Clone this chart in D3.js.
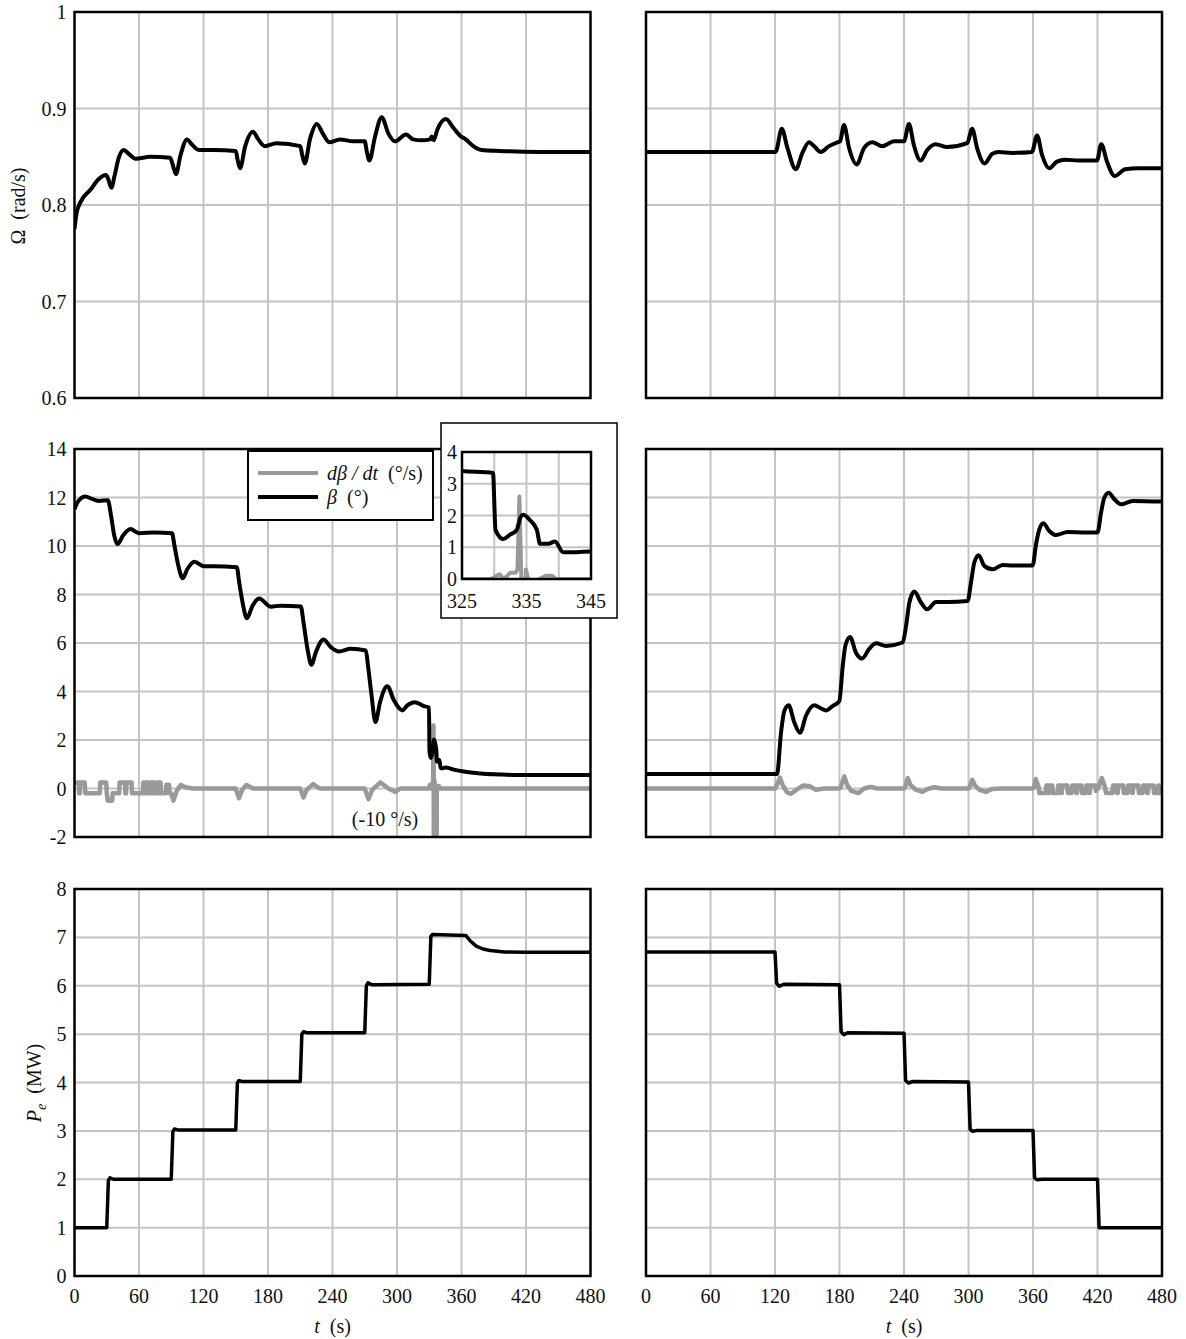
<!DOCTYPE html>
<html>
<head>
<meta charset="utf-8">
<script src="https://cdn.jsdelivr.net/npm/d3@7"></script>
<style>
body { margin: 0; background: white; }
text { font-family: "Liberation Serif", "Times New Roman", serif; fill: #111; }
</style>
</head>
<body>
<div id="chart"></div>
<script>
// ---- data ----
const tTicks = [0, 60, 120, 180, 240, 300, 360, 420, 480];
const omegaTicks = [0.6, 0.7, 0.8, 0.9, 1];
const omegaTickLabels = ["0.6", "0.7", "0.8", "0.9", "1"];
const betaTicks = [-2, 0, 2, 4, 6, 8, 10, 12, 14];
const peTicks = [0, 1, 2, 3, 4, 5, 6, 7, 8];
const insetTTicks = [325, 330, 335, 340, 345];
const insetTLabels = [325, 335, 345];
const insetBetaTicks = [0, 1, 2, 3, 4];

// rotor speed, increasing power (left) and decreasing power (right)
const omegaUp = [[0,0.775],[2,0.792],[5.6,0.803],[15,0.816],[22.6,0.827],[29.4,0.831],[31.3,0.827],[34.4,0.818],[37.2,0.83],[41.2,0.849],[45.8,0.857],[50.5,0.853],[56.7,0.848],[70.6,0.85],[89,0.849],[91.3,0.842],[94.4,0.832],[98.5,0.851],[104.6,0.868],[109,0.863],[115.5,0.857],[129,0.857],[150,0.856],[151.7,0.847],[154,0.838],[158.8,0.861],[166,0.876],[171,0.868],[177,0.861],[188,0.864],[210,0.861],[211.8,0.852],[214.2,0.843],[219.2,0.869],[225.4,0.884],[231,0.874],[237,0.865],[247,0.868],[259.4,0.866],[270,0.866],[271.8,0.856],[274.3,0.846],[279.6,0.871],[285.8,0.891],[292,0.874],[298,0.866],[308.4,0.873],[315,0.868],[323,0.867],[331,0.868],[332.2,0.871],[334,0.867],[337.5,0.878],[345.5,0.889],[352.4,0.88],[358.5,0.872],[364,0.868],[371,0.861],[378.6,0.857],[395.6,0.856],[432.8,0.855],[480,0.855]];
const omegaDown = [[0,0.855],[120.5,0.855],[126.3,0.879],[131.6,0.859],[139.3,0.837],[145.5,0.854],[151.7,0.865],[156.3,0.861],[162.5,0.855],[170.3,0.861],[178,0.865],[180.5,0.866],[184.2,0.883],[188.9,0.859],[196,0.842],[202.8,0.859],[210.5,0.865],[219.8,0.861],[230.7,0.866],[240,0.866],[244.6,0.884],[249.2,0.862],[255.4,0.846],[261.6,0.857],[269.3,0.863],[280,0.86],[298.8,0.864],[303.4,0.879],[308,0.859],[315,0.843],[322,0.853],[328,0.855],[340.6,0.854],[359,0.855],[363.8,0.872],[368.4,0.852],[375.2,0.838],[382.3,0.845],[390,0.847],[402.5,0.846],[419.5,0.846],[423.5,0.863],[428.8,0.845],[436,0.83],[445.8,0.837],[458.2,0.838],[480,0.838]];

// pitch angle (deg)
const betaUp = [[0,11.52],[3.7,11.86],[10,12.04],[17,11.93],[23,11.86],[31,11.89],[34,11.25],[37,10.42],[40,10.08],[45,10.42],[52,10.7],[60,10.53],[74,10.56],[90.7,10.53],[93,10.01],[96.6,9.19],[100.6,8.67],[105,9.05],[111.5,9.35],[120.7,9.16],[130,9.16],[151,9.12],[153.2,8.5],[156.3,7.68],[160.4,7.02],[165.6,7.54],[171.8,7.84],[182.7,7.5],[192,7.54],[210.5,7.51],[213,6.86],[216.7,5.76],[220.4,5.1],[224.5,5.62],[231.6,6.14],[238.4,5.83],[246,5.65],[257,5.76],[271,5.69],[273,5.07],[276,3.97],[280,2.74],[284.2,3.56],[291,4.22],[297.2,3.63],[305,3.22],[309.6,3.43],[316.4,3.56],[323.5,3.43],[325,3.4],[329.8,3.34],[330.2,1.54],[331.4,1.26],[332.4,1.39],[333.5,1.55],[334.1,1.96],[334.5,2.02],[335.5,1.86],[336.6,1.55],[337.1,1.11],[338.4,1.11],[339.4,1.18],[340.7,0.84],[342.8,0.84],[344.9,0.87],[352.8,0.78],[362,0.7],[377.6,0.62],[395,0.58],[408,0.56],[480,0.56]];
const betaDown = [[0,0.6],[121.9,0.6],[125.6,2.3],[128.7,3.2],[132.7,3.43],[138,2.72],[143.3,2.3],[148.8,3.0],[156.6,3.43],[163,3.3],[167.4,3.22],[173.6,3.4],[179.8,3.6],[183,5.05],[185.4,5.88],[189.8,6.25],[195.3,5.6],[201,5.36],[207.8,5.77],[214,5.99],[223.3,5.88],[238.8,6.02],[241.9,6.7],[245,7.67],[249.6,8.12],[255.8,7.67],[261.4,7.39],[269.8,7.69],[280.6,7.69],[299.2,7.73],[302.3,8.49],[305.4,9.32],[309.5,9.62],[314.7,9.18],[322.5,9.04],[331.8,9.22],[341,9.2],[359.7,9.2],[362.8,10.07],[365.9,10.69],[369.6,10.94],[375.2,10.62],[381.4,10.45],[392.2,10.58],[409.3,10.56],[420,10.56],[423.3,11.38],[426.4,12.0],[430.4,12.2],[435.7,11.93],[441.9,11.72],[452.7,11.86],[480,11.83]];

// pitch rate (deg/s)
const dBetaUp = [[0,0.25],[4,0.25],[4.3,-0.2],[5,-0.2],[5.3,0.25],[9.5,0.25],[10,-0.2],[23.5,-0.2],[24,0.25],[29.5,0.25],[30,-0.2],[31,-0.5],[35,-0.5],[35.5,-0.2],[41.5,-0.2],[42,0.25],[47,0.25],[47.3,-0.2],[48,-0.2],[48.3,0.25],[53,0.25],[53.5,-0.2],[63.5,-0.2],[64,0.25],[66,0.25],[66.3,-0.2],[66.8,-0.2],[67.1,0.25],[68,0.25],[68.5,-0.2],[70,-0.2],[70.5,0.25],[72,0.25],[72.3,-0.2],[72.8,-0.2],[73.1,0.25],[74,0.25],[74.5,-0.2],[76,-0.2],[76.5,0.25],[78,0.25],[78.3,-0.2],[78.8,-0.2],[79.1,0.25],[80,0.25],[80.5,-0.2],[85,-0.2],[85.5,0.15],[88,0.15],[88.5,-0.2],[90,-0.2],[92,-0.5],[95,-0.1],[99,0.15],[103,0.05],[110,0],[150,0],[153,-0.4],[156,-0.05],[160,0.15],[166,0],[210,0],[213,-0.37],[216,-0.05],[222,0.18],[228,0],[270,0],[273.5,-0.44],[277,-0.05],[284.6,0.25],[292,0],[298.6,-0.14],[303,0],[329.5,0],[330.8,0.15],[331.5,0],[332.5,0.2],[333.3,0.2],[333.6,0.3],[333.9,2.6],[334.2,0],[334.5,-10],[334.9,0.3],[335.5,-0.2],[336.4,-10],[337,0],[338,0.1],[339,0.1],[339.5,0],[480,0]];
const dBetaDown = [[0,0],[120,0],[121,0.05],[124.5,0.45],[127,0.15],[131,-0.15],[135,-0.22],[140,-0.05],[146,0.12],[152,0.1],[158,-0.05],[166,0],[180,0],[181,0.05],[184.5,0.5],[187,0.15],[191,-0.1],[197.5,-0.19],[203,0],[209,0.07],[215,0],[240,0],[241,0.05],[243.5,0.43],[246,0.15],[251,-0.05],[257,-0.14],[262,-0.02],[268,0.05],[275,0],[300,0],[301,0.05],[303.5,0.36],[306,0.12],[310,-0.05],[316,-0.14],[322,-0.02],[330,0],[360,0],[361,0.05],[362.5,0.39],[365,0.1],[366,-0.19],[372,-0.19],[372.5,0.12],[374,0.12],[374.3,-0.19],[374.8,-0.19],[375.1,0.12],[378,0.12],[378.5,-0.19],[383,-0.19],[383.5,0.12],[386,0.12],[386.3,-0.19],[386.8,-0.19],[387.1,0.12],[392,0.12],[392.5,-0.19],[396,-0.19],[396.5,0.12],[400,0.12],[400.3,-0.19],[400.8,-0.19],[401.1,0.12],[405,0.12],[405.5,-0.19],[409,-0.19],[409.5,0.12],[412,0.12],[412.3,-0.19],[412.8,-0.19],[413.1,0.12],[418,0.12],[418.5,-0.1],[421,0.05],[424,0.43],[426.5,0.12],[428,-0.19],[434,-0.19],[434.5,0.12],[438,0.12],[438.3,-0.19],[438.8,-0.19],[439.1,0.12],[444,0.12],[444.5,-0.19],[448,-0.19],[448.5,0.12],[452,0.12],[452.3,-0.19],[452.8,-0.19],[453.1,0.12],[458,0.12],[458.5,-0.19],[462,-0.19],[462.5,0.12],[466,0.12],[466.3,-0.19],[466.8,-0.19],[467.1,0.12],[472,0.12],[472.5,-0.19],[476,-0.19],[476.3,0.12],[477,0.12],[477.3,-0.19],[480,-0.19]];

// electrical power (MW)
const peUp = [[0,1],[30,1],[31.5,1.97],[33,2.03],[36,2.0],[90,2.0],[91.5,2.98],[93,3.04],[96,3.02],[150,3.02],[151.5,3.99],[153,4.04],[156,4.02],[210,4.02],[211.5,5.0],[213,5.05],[216,5.03],[270,5.03],[271.5,6.0],[273,6.06],[277,6.02],[330,6.03],[331.5,7.02],[333,7.06],[364,7.04],[368,6.93],[373.7,6.82],[380,6.76],[386.6,6.73],[400,6.7],[418.8,6.69],[480,6.69]];
const peDown = [[0,6.7],[120,6.7],[121.5,6.05],[124,5.99],[128,6.03],[180,6.02],[181.5,5.05],[184,4.99],[188,5.03],[240,5.02],[241.5,4.04],[244,3.99],[248,4.02],[300,4.01],[301.5,3.03],[304,2.99],[308,3.01],[360,3.01],[361.5,2.02],[364,1.99],[368,2.0],[420,2.0],[421.5,1.0],[480,1.0]];

// ---- layout ----
const width = 1186, height = 1339;
const fs = 20;
const cols = [{ x0: 74.5, x1: 590.5 }, { x0: 646, x1: 1162 }];
const rows = [{ y0: 12, y1: 398 }, { y0: 449, y1: 837 }, { y0: 889, y1: 1276 }];

const svg = d3.select("#chart")
  .append("svg")
  .attr("width", width)
  .attr("height", height);

const defs = svg.append("defs");
let clipId = 0;

function drawPanel(col, row, yDomain, yTicks, opts) {
  const c = cols[col], r = rows[row];
  const x = d3.scaleLinear().domain(opts.xDomain || [0, 480]).range([c.x0, c.x1]);
  const y = d3.scaleLinear().domain(yDomain).range([r.y1, r.y0]);
  const xTicks = opts.xTicks || tTicks;
  const g = svg.append("g");

  // grid
  g.append("g").selectAll("line.v")
    .data(xTicks.slice(1, -1))
    .enter().append("line")
    .attr("x1", d => x(d)).attr("x2", d => x(d))
    .attr("y1", r.y0).attr("y2", r.y1)
    .attr("stroke", "#c4c4c4").attr("stroke-width", 2);
  g.append("g").selectAll("line.h")
    .data(yTicks.slice(1, -1))
    .enter().append("line")
    .attr("x1", c.x0).attr("x2", c.x1)
    .attr("y1", d => y(d)).attr("y2", d => y(d))
    .attr("stroke", "#c4c4c4").attr("stroke-width", 2);

  // clip so spikes stop at the frame
  const id = "clip" + (clipId++);
  defs.append("clipPath").attr("id", id)
    .append("rect")
    .attr("x", c.x0).attr("y", r.y0)
    .attr("width", c.x1 - c.x0).attr("height", r.y1 - r.y0);

  const lines = g.append("g").attr("clip-path", `url(#${id})`);
  (opts.series || []).forEach(s => {
    const line = d3.line()
      .x(d => x(d[0]))
      .y(d => y(d[1]))
      .curve(s.smooth ? d3.curveMonotoneX : d3.curveLinear);
    lines.append("path")
      .datum(s.data)
      .attr("fill", "none")
      .attr("stroke", s.color)
      .attr("stroke-width", s.width || 4)
      .attr("stroke-linejoin", "round")
      .attr("d", line);
  });

  // frame
  g.append("rect")
    .attr("x", c.x0).attr("y", r.y0)
    .attr("width", c.x1 - c.x0).attr("height", r.y1 - r.y0)
    .attr("fill", "none").attr("stroke", "#000").attr("stroke-width", 2.5);

  if (opts.yLabels) {
    g.append("g").selectAll("text")
      .data(yTicks)
      .enter().append("text")
      .attr("x", c.x0 - (opts.yLabelGap || 8))
      .attr("y", d => y(d))
      .attr("dy", "0.35em")
      .attr("text-anchor", "end")
      .style("font-size", fs + "px")
      .text((d, i) => opts.yLabels[i]);
  }
  if (opts.xLabels) {
    g.append("g").selectAll("text")
      .data(opts.xLabels)
      .enter().append("text")
      .attr("x", d => x(d))
      .attr("y", r.y1 + (opts.xLabelOff || 27))
      .attr("text-anchor", "middle")
      .style("font-size", fs + "px")
      .text(d => d);
  }
  return { x, y, g };
}

// top row: rotor speed
drawPanel(0, 0, [0.6, 1], omegaTicks, {
  yLabels: omegaTickLabels,
  series: [{ data: omegaUp, color: "#000", smooth: true }]
});
drawPanel(1, 0, [0.6, 1], omegaTicks, {
  series: [{ data: omegaDown, color: "#000", smooth: true }]
});

// middle row: pitch
drawPanel(0, 1, [-2, 14], betaTicks, {
  yLabels: betaTicks,
  series: [
    { data: dBetaUp, color: "#999999", smooth: false, width: 4.5 },
    { data: betaUp, color: "#000", smooth: true }
  ]
});
drawPanel(1, 1, [-2, 14], betaTicks, {
  series: [
    { data: dBetaDown, color: "#999999", smooth: false, width: 4.5 },
    { data: betaDown, color: "#000", smooth: true }
  ]
});

// bottom row: power
drawPanel(0, 2, [0, 8], peTicks, {
  yLabels: peTicks,
  xLabels: tTicks,
  series: [{ data: peUp, color: "#000", smooth: false, width: 3.5 }]
});
drawPanel(1, 2, [0, 8], peTicks, {
  xLabels: tTicks,
  series: [{ data: peDown, color: "#000", smooth: false, width: 3.5 }]
});

// legend box
const leg = svg.append("g");
leg.append("rect")
  .attr("x", 248).attr("y", 451).attr("width", 185).attr("height", 69)
  .attr("fill", "white").attr("stroke", "#000").attr("stroke-width", 2);
leg.append("line")
  .attr("x1", 258).attr("x2", 318).attr("y1", 473).attr("y2", 473)
  .attr("stroke", "#999999").attr("stroke-width", 4);
leg.append("line")
  .attr("x1", 258).attr("x2", 318).attr("y1", 497).attr("y2", 497)
  .attr("stroke", "#000").attr("stroke-width", 4);
const l1 = leg.append("text").attr("x", 327).attr("y", 480).style("font-size", fs + "px");
l1.append("tspan").style("font-style", "italic").text("dβ / dt");
l1.append("tspan").text("\u00a0 (°/s)");
const l2 = leg.append("text").attr("x", 327).attr("y", 504).style("font-size", fs + "px");
l2.append("tspan").style("font-style", "italic").text("β");
l2.append("tspan").text("\u00a0 (°)");

// note for clipped spike
svg.append("text")
  .attr("x", 385).attr("y", 826)
  .attr("text-anchor", "middle")
  .style("font-size", fs + "px")
  .text("(-10 °/s)");

// inset zoom of the pitch drop
svg.append("rect")
  .attr("x", 441).attr("y", 423).attr("width", 176).attr("height", 195)
  .attr("fill", "white").attr("stroke", "#000").attr("stroke-width", 1.5);
cols.push({ x0: 462, x1: 591 });
rows.push({ y0: 452, y1: 579 });
drawPanel(2, 3, [0, 4], insetBetaTicks, {
  xDomain: [325, 345],
  xTicks: insetTTicks,
  yLabels: insetBetaTicks,
  yLabelGap: 5,
  xLabels: insetTLabels,
  xLabelOff: 29,
  series: [
    { data: dBetaUp, color: "#999999", smooth: false },
    { data: betaUp, color: "#000", smooth: true }
  ]
});

// axis titles
svg.append("text")
  .attr("transform", "translate(25,206) rotate(-90)")
  .attr("text-anchor", "middle")
  .style("font-size", fs + "px")
  .text("Ω\u00a0 (rad/s)");

const pe = svg.append("text")
  .attr("transform", "translate(41,1083) rotate(-90)")
  .attr("text-anchor", "middle")
  .style("font-size", fs + "px");
pe.append("tspan").style("font-style", "italic").text("P");
pe.append("tspan").style("font-style", "italic").style("font-size", "14px").attr("dy", 5).text("e");
pe.append("tspan").attr("dy", -5).text("\u00a0 (MW)");

[cols[0], cols[1]].forEach(c => {
  const t = svg.append("text")
    .attr("x", (c.x0 + c.x1) / 2)
    .attr("y", 1333)
    .attr("text-anchor", "middle")
    .style("font-size", fs + "px");
  t.append("tspan").style("font-style", "italic").text("t");
  t.append("tspan").text("\u00a0 (s)");
});
</script>
</body>
</html>
